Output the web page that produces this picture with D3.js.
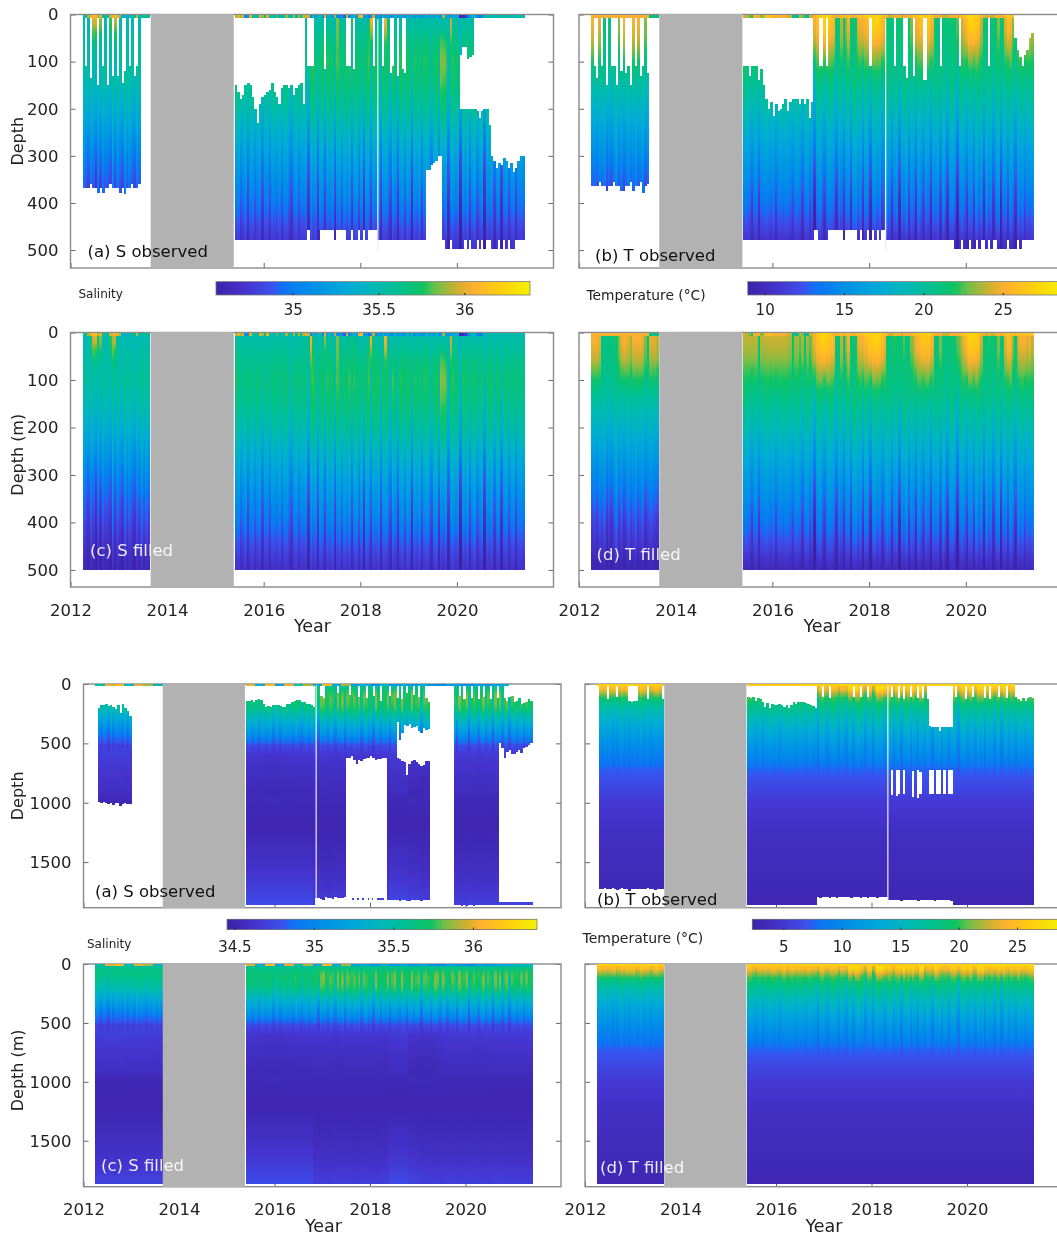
<!DOCTYPE html>
<html><head><meta charset="utf-8">
<script src="https://cdn.jsdelivr.net/npm/d3@7/dist/d3.min.js"></script>
<style>html,body{margin:0;padding:0;background:#fff;overflow:hidden}svg{display:block;font-family:"DejaVu Sans",sans-serif;filter:blur(0.45px)}</style>
</head><body><svg id="c" width="1057" height="1236"></svg>
<script>
// ---- time columns: 28 in 2012-2013, 120 in 2015-2021 (0.05 yr each)
const colorStops=[0,.1,.18,.21,.3,.42,.5,.58,.66,.7,.77,.82,.9,1];
const colorValues=["#3c22a8","#4535d0","#3a52ee","#1070f5","#008ee8","#00aad8","#00b8b8","#00c090","#10c460","#70bf48","#d0b030","#ffb030","#ffcc10","#f2f200"];
const yearTicks=[2012,2014,2016,2018,2020];
const shallowTicks=[0,100,200,300,400,500];
const deepTicks=[0,500,1000,1500];
const salTicksTop=[35,35.5,36], tempTicksTop=[10,15,20,25];
const salTicksBot=[34.5,35,35.5,36], tempTicksBot=[5,10,15,20,25];

// base profiles
const shallowDepths=[0,50,100,150,200,250,300,350,400,450,480,500];
const sShallowBase=[35.5,35.6,35.65,35.6,35.5,35.35,35.2,35.07,34.95,34.8,34.72,34.68];
const tShallowBase=[22.2,21.8,21,20,18.6,17,15.4,14,12.6,11.2,10.1,9.6];
const sDeepDepths=[0,30,100,200,300,400,480,510,600,800,1000,1200,1500,1700,1865];
const sDeepBase=[35.45,35.6,35.68,35.6,35.35,35.1,34.88,34.75,34.65,34.57,34.52,34.49,34.55,34.62,34.7];
const tDeepDepths=[0,40,80,110,150,200,300,400,500,600,680,720,1000,1300,1865];
const tDeepBase=[24.5,23.8,21,19.5,18.5,17.3,15,13,11,9.6,8.4,7.5,5.2,3.9,3];

// column anomalies read from the streaks
const tWarm=[3,3,3,2.5,-1.5,-1.5,-1,-1,-1.5,0,-1,1,2.5,3,3,2.5,1.5,3,3,3,3,2.5,1,-1,2.5,2.5,2.5,2,
1.8,1.8,1.8,1.8,1.8,1.8,-1,1.8,1.8,2,2,2,2,2,2,2,2,2,1.8,1.5,-.5,1.5,1.5,.5,1.5,-.5,1.5,.5,1.5,
3,4,4.5,5,5,4.5,4.5,4,3.5,-1,-1,2,-1,1,3,-1,-1,-.5,2.5,3,3,3.5,4,4.5,5,5,5,4.5,4,3,
-.5,-1,-1,0,-1,-.5,-1,.5,-1,-1,1,2,3,3.5,4,4.5,4,4.5,3.5,3,
-1,-1,1,-1,-1,-1,-1,-.5,-1,.5,1,2,3,4,5,5,5,4.5,4,2,-.5,-1,0,-1,-1,-.5,1,-1,-.5,2.5,4,3.5,1,-.5,2,3,3,3,2.5,3,2];
const tMid=[-.5,-.3,-.8,-.2,-.5,0,-1,-.5,-1,-.3,.3,-.8,-.2,-1,-.5,0,-.6,-.3,.2,-.7,-.3,0,-1,-.5,-.2,-.4,-.6,-.8,
.5,.6,.3,-.6,.4,.5,-.8,.3,.5,.6,.4,.2,.5,-.5,.4,.6,.3,.5,.6,.2,-.3,.5,.6,.3,-.6,.5,.6,-.2,.3,
-1.5,.4,.8,.3,-.7,.5,.8,.6,.2,-1,.6,.2,-.8,.5,.7,-.9,.8,1,.2,.6,-.9,.7,.5,-1.2,.6,.9,.3,.7,-.5,.4,
1,.6,-.8,.5,.8,-1.2,.7,.3,.9,-.6,.6,.2,-1,.8,.4,-.5,.8,.3,-1.1,.6,
.5,.8,-.6,.9,.4,-1,.6,.8,.2,-1.4,.5,.9,.3,-.7,.6,.5,-.6,1,.2,.6,-1.2,.8,.3,.5,-.8,.6,.9,-1.3,.4,.6,-.5,.8,.3,-.9,.7,.4,.6,-.2,.5,.3,.6];
const tSkin=[25,25,25,25,25,25,25,25,25,25,25,25,25,25,25,25,25,25,25,25,25,25,25,25,20.5,20.5,21,20.5,
24,24,23,22,25,25,25,23,24,26,26,26,25,25,25,25,25,25,24,24,20.5,20,21,24,23,20.5,20.5,24,24,
25,26,26.5,27,27,27,27,26,25,25,25,26,25,25,26,25,25,25,26,26,26,26.5,27,27,27,27,27,27,26,26,
25,24,24,25,25,25,24,25,25,25,25,26,26,26,27,27,26,27,26,26,
25,25,25,24,24,24,25,25,25,25,25,26,26,27,27,27,27,27,26,25,25,24,25,24,24,25,25,25,25,26,27,26,26,25,26,26,26,26,26,26,26];
const sSkin=[35.5,35.6,35.9,36,36.1,36.1,35.9,36,35.7,35.5,35.5,35.95,36,36.05,36,35.9,35.4,35.3,35.4,35.5,35.4,35.6,35.95,35.5,35.5,35.6,35.6,35.6,
35.9,36,35.9,36,35.1,35.1,36,35.6,35.6,35.5,36,35.9,35.6,36,35.6,35.5,35.5,35.8,35.5,35.5,35.5,35.9,35.6,35.5,35.9,35.6,35.9,35.5,35.9,
36,35.95,35.1,35.5,35.2,35.5,35.5,35.1,36,35.3,35.5,35.2,35.9,35.1,35.1,35.2,34.9,35.95,35.1,35.3,35.4,35.2,36,36.1,35.2,35.2,34.95,35.1,35.95,35.1,
35.2,35.1,35.4,35.2,35.3,35.1,35.2,35.4,35.1,35.3,35.2,35.1,35.4,35.2,35.5,35.1,35.3,35.2,35.1,35.2,
35.5,35.2,35.3,35.2,35.3,35.2,35.2,35.9,35.3,35.2,35.2,35.3,35.3,35.4,34.6,34.6,34.7,35,35.2,35.4,35.5,35.1,34.95,35.1,35.5,35.5,35.5,35.5,35.5,35.5,35.5,35.5,35.5,35.5,35.5,35.5,35.5,35.5,35.5,35.5,35.5];
const sSurf=[0,0,0,.3,.6,.7,.2,.5,0,0,0,.4,.5,.6,.1,0,0,0,0,0,0,0,0,0,0,0,0,0,
0,0,0,0,0,0,0,0,0,0,0,0,0,0,0,0,0,0,0,0,0,0,0,0,0,0,0,0,0,
0,.2,.6,.2,0,0,0,0,.5,0,0,0,0,.4,.1,0,0,0,0,.35,0,0,0,0,0,0,.2,.7,.1,0,
0,0,0,.6,.1,0,0,0,.05,0,0,0,0,0,0,0,0,0,0,0,
0,0,0,0,0,0,0,0,0,0,.5,0,0,0,0,0,0,0,0,0,0,0,0,0,0,0,0,0,0,0,0,0,0,0,0,0,0,0,0,0,0];
const sMid=[-.05,-.1,-.15,-.05,-.1,-.2,-.05,-.15,-.05,-.1,-.1,-.15,0,-.15,-.05,-.1,-.15,0,-.1,-.05,-.1,-.15,-.05,-.1,0,-.1,-.05,-.1,
.02,.05,-.05,0,.05,-.1,.03,.05,-.05,.02,.05,-.1,.03,.02,-.08,.05,.02,0,.05,-.05,.03,.05,-.02,-.1,.03,.05,-.05,.03,.02,
.05,-.15,.08,.02,.05,-.12,.08,.03,-.1,.06,.02,.08,-.12,.05,.07,-.05,.08,.02,.07,-.1,.05,.08,-.05,.06,-.15,.08,.04,-.1,.06,.02,
.07,-.12,.05,.06,.02,-.1,.08,.03,-.12,.05,.07,-.05,.08,.04,-.15,.06,.02,.07,-.08,.05,
.08,.03,-.1,.06,.08,-.12,.05,.02,.07,-.15,.06,.08,.03,.05,-.2,.06,.03,.07,-.1,.05,.08,-.06,.03,.06,-.18,.05,.02,.07,-.1,.04,.06,-.15,.03,.05,-.08,.02,.04,-.1,.02,.03,0];
const sPlume=[0,0,0,0,0,0,0,0,0,0,0,0,0,0,0,0,0,0,0,0,0,0,0,0,0,0,0,0,
0,0,0,0,0,.05,0,0,0,0,.05,0,0,0,0,0,0,0,0,0,.05,0,0,0,0,0,0,0,0,
0,0,.1,.35,.1,0,0,.15,.05,.2,0,0,.1,.3,.05,.1,0,0,.2,.05,.25,0,.1,.05,.2,.05,.3,.1,0,.15,
.1,.05,.15,0,.1,.05,.2,0,.1,.2,.05,.25,.05,.1,0,.15,.1,.05,.05,.2,
.1,.05,.1,.05,.1,.25,.5,.55,.3,.1,.05,.15,0,.1,.05,.15,.05,.1,0,.1,.05,.1,.05,.15,0,.1,.05,.1,.05,.1,0,.05,.1,.05,0,.05,.1,0,.05,0,0];
const sdLime=[0,0,0,0,0,0,0,0,0,0,0,0,0,0,0,0,0,0,0,0,0,0,0,0,0,0,0,0,
0,0,0,0,0,0,0,0,0,0,0,0,0,0,0,0,0,0,0,0,.15,.05,0,0,0,0,0,0,0,
.1,.3,.2,.35,.1,.3,.15,.2,.05,.3,.1,.2,.05,.25,.1,.3,.15,.05,.2,.05,.25,.1,.2,.05,.15,.3,.1,.2,.05,.15,
.25,.1,.2,.3,.1,.2,.3,.15,.25,.05,.3,.2,.1,.25,.05,.2,.3,.1,.2,.05,
.25,.3,.2,.3,.1,.25,.05,.3,.1,.2,.3,.05,.2,.3,.1,.05,.25,.05,.3,.1,.2,.05,.25,.1,.05,.3,.1,.25,.05,.2,.3,.05,.25,.1,.3,.05,.25,.1,.3,.1,.2];
const sdSkin=[35.5,36,36.1,35.4,36,35.9,35.4,36,35.3,36.1,35.2,36,35.5,35.9,35.3,36.1,35.3,35.9,35.2,35.3,35.1,35.4,35.1,35.3,35.1,35.3,35.1,35,35.2,35.1,35,35.2,35.1,35.2,35.3,35.4,35.4];
const sdDeep=[.06,.07,.07,.06,.06,.06,.05,-.01,-.02,-.03,-.03,-.02,-.01,-.01,0,0,-.01,0,0,0,0,-.01,.03,.04,-.03,-.04,-.03,0,.02,.02,.02,.01,.02,.03,.03,.03,.03];
const sdBot=[.02,.02,.02,.02,.02,.02,.02,.07,.07,.07,.07,.07,.07,.07,0,-.01,0,0,-.01,0,-.01,.01,.06,.06,.03,.01,0,0,.01,0,.01,0,0,.01,0,0,0];
const tdWarm=[1,1,.5,1.5,.5,1,1.5,1.5,.5,1.5,1,.5,1.5,.5,1,0,.5,1,0,1,.5,1.2,0,1,.5,.5,.8,.5,.5,1,.5,.5,.7,.3,.5,2,2.5,1.5,0,1.5,-.5,2.5,2.5,1,.5,1.5,2.5,1,2,1,2.5,0,1,2,.5,0,1,1.5,1,1.5,2,.5,2,2,.5,1.5,1,2,.5,1,1.5,.5,1,1.5];
const tdSkin=[26.5,26,26.5,26,26.5,27];

// observed coverage, shallow salinity
const aTop=[8,110,8,135,8,8,150,8,110,8,150,8,130,8,130,8,145,120,8,110,8,130,110,8,null,null,null,null,
150,165,180,170,150,145,150,175,200,230,190,175,170,165,160,145,165,175,190,155,150,150,155,150,170,155,150,145,190,
8,110,110,110,8,8,8,8,115,8,8,8,8,8,8,8,8,110,110,8,115,8,8,8,8,8,8,8,110,8,
8,8,110,8,8,125,110,8,130,8,115,125,8,8,8,8,8,8,8,8,
8,8,8,8,8,8,8,8,8,8,8,8,8,8,8,8,8,8,8,8,200,205,220,205,200,200,235,300,310,325,315,320,305,310,325,315,335,325,310,300,300];
const aBot=[368,368,368,360,368,368,378,368,378,368,368,360,368,368,368,378,368,380,368,368,360,368,368,360,null,null,null,null,
478,478,478,478,478,478,478,478,478,478,478,478,478,478,478,478,478,478,478,478,478,478,478,478,478,478,478,478,478,
478,458,478,478,478,478,458,458,458,458,458,458,478,458,458,458,458,478,478,458,478,478,458,478,458,478,458,458,458,458,
478,478,478,478,478,478,478,478,478,478,478,478,478,478,478,478,478,478,478,478,
330,330,320,315,310,300,300,478,498,498,478,498,498,498,498,498,478,498,478,498,498,478,498,478,498,478,478,498,498,498,478,498,478,498,478,498,498,478,478,478,478];
const aHoles=[[121,85,200],[122,70,200],[123,70,200],[124,95,200],[125,90,200],[126,85,200]];
// observed coverage, shallow temperature
const bTop=[8,110,135,8,110,8,150,8,110,110,150,8,120,8,125,110,150,8,110,8,130,110,8,125,null,null,null,null,
110,110,130,110,110,110,140,115,150,180,200,185,215,190,205,200,190,180,205,185,180,180,180,190,180,190,180,220,185,
8,8,110,110,8,110,8,8,8,8,8,8,8,8,8,8,8,8,8,8,8,8,8,110,8,8,8,8,8,8,
8,8,8,110,8,8,8,110,135,8,8,130,8,8,8,140,140,8,8,8,
8,8,110,8,8,8,8,8,8,8,110,8,8,8,8,8,8,8,8,8,8,8,110,8,8,8,8,8,8,8,8,8,8,50,75,90,110,85,75,50,40];
const bBot=[365,365,365,355,365,365,375,365,365,355,365,365,375,375,365,365,355,375,365,365,355,378,365,360,null,null,null,null,
478,478,478,478,478,478,478,478,478,478,478,478,478,478,478,478,478,478,478,478,478,478,478,478,478,478,478,478,478,
458,458,478,478,478,478,458,458,458,458,458,458,478,458,458,458,458,458,478,458,478,478,458,478,458,478,458,478,458,458,
478,478,478,478,478,478,478,478,478,478,478,478,478,478,478,478,478,478,478,478,
478,478,478,478,478,478,478,478,498,498,498,478,498,498,478,498,498,478,498,478,478,498,478,498,478,478,498,498,498,498,478,498,498,498,478,498,478,478,478,478,478];
// observed coverage, deep salinity
const a2Top=[null,205,180,175,170,185,180,195,210,180,245,170,200,225,270,null,null,null,null,null,null,null,null,null,null,null,null,null,
145,140,135,150,135,130,135,170,190,185,190,175,180,175,185,190,195,165,170,155,140,135,135,150,155,165,170,175,195,
8,8,100,120,8,8,8,8,8,80,8,8,8,8,90,8,8,8,110,8,8,120,8,8,100,8,8,140,8,8,
8,100,8,8,120,8,130,8,80,8,8,90,8,110,8,8,120,150,
null,null,null,null,null,null,null,null,null,null,
8,8,100,8,130,8,8,120,8,8,130,8,110,8,8,125,8,8,120,
8,8,120,140,110,100,150,140,120,170,160,150,130,140];
const a2Bot=[null,990,1000,990,1000,1010,1000,1020,1000,1000,1030,1010,1000,1010,1010,null,null,null,null,null,null,null,null,null,null,null,null,null,
1860,1860,1860,1860,1860,1860,1860,1860,1860,1860,1860,1860,1860,1860,1860,1860,1860,1860,1860,1860,1860,1860,1860,1860,1860,1860,1860,1860,1860,
1800,1800,1810,1820,1790,1800,1800,1810,1790,1800,1800,1800,1790,620,620,610,640,670,640,650,630,620,620,610,620,640,630,630,620,620,
1820,1820,1815,1820,1820,1825,1820,1820,1830,1825,1820,1815,1820,1820,1825,1820,1820,1820,
null,null,null,null,null,null,null,null,null,null,
1860,1860,1860,1870,1860,1870,1860,1865,1870,1860,1860,1865,1860,1860,1860,1860,1860,1860,1860,
500,540,620,570,560,590,590,570,560,580,540,530,510,500];
const a2Holes=[[91,320,620],[92,470,630],[93,410,650],[94,345,660],[95,350,770],[96,340,670],[97,370,650],[98,360,640],[99,350,660],[100,400,670],[101,410,690],[102,370,680],[103,390,650],[104,380,650]];
const a2Extras=[[2020.7,2021.42,1835,1860],[2017.62,2017.66,1800,1815],[2017.72,2017.78,1800,1815],[2017.84,2017.87,1800,1815],[2017.95,2017.98,1800,1815],[2018.04,2018.07,1800,1815],[2018.15,2018.3,1800,1815]];
// observed coverage, deep temperature
const b2Top=[null,8,8,8,125,8,8,8,110,8,8,8,8,140,150,140,140,8,8,8,8,130,8,8,8,8,8,130,
110,120,110,140,120,125,150,190,160,205,170,180,175,170,180,190,175,200,175,150,165,150,155,150,160,165,175,185,200,
8,8,110,8,8,120,8,8,8,8,8,8,8,8,8,110,8,8,110,8,8,110,8,8,8,8,8,8,8,8,
8,110,8,8,120,8,130,8,8,110,8,8,115,8,120,8,130,
350,365,360,360,400,365,360,360,360,365,
8,110,8,8,8,125,8,8,110,8,8,8,8,115,8,130,8,8,8,110,8,8,120,8,8,8,
110,130,140,120,140,120,110,115];
const b2Bot=[null,1730,1730,1720,1730,1730,1720,1730,1735,1730,1720,1730,1730,1740,1730,1730,1730,1730,1730,1730,1730,1720,1730,1730,1735,1730,1730,1730,
1860,1860,1860,1860,1860,1860,1860,1860,1860,1860,1860,1860,1860,1860,1860,1860,1860,1860,1860,1860,1860,1860,1860,1860,1860,1860,1860,1860,1860,
1790,1800,1795,1790,1795,1800,1795,1790,1800,1795,1790,1795,1790,1795,1800,1795,1790,1795,1800,1790,1795,1800,1795,1790,1795,1800,1795,1795,1790,1795,
1820,1820,1815,1820,1820,1825,1820,1820,1815,1820,1820,1820,1825,1820,1815,1820,1820,1820,1820,1825,1820,1820,1815,1820,1820,1820,1825,
1860,1860,1865,1860,1860,1860,1865,1860,1860,1860,1860,1865,1860,1860,1860,1860,1860,1860,1865,1860,1860,1860,1860,1860,1860,1860,1860,1865,1860,1860,1860,1860,1860,1860];
const b2Holes=[[88,725,935],[90,725,945],[91,725,930],[93,725,925],[97,730,950],[99,725,960],[100,740,925],[104,725,925],[105,725,930],[107,725,930],[108,725,925],[110,725,925],[112,725,930],[113,725,925]];

// ---- families: base profile + anomalies weighted by depth
const fam={
 sS:{d:shallowDepths,base:sShallowBase,skin:sSkin,skinD:8,max:500,step:20,layers:[
   [sSurf,[0,10,30,50,70,100],[.85,.85,.65,.3,.08,0]],
   [sMid,[0,50,100,300,400,500],[.3,.8,1,1.7,1.6,.8]],
   [sPlume,[30,60,100,200,300,400],[0,.3,.35,.25,.1,0]]]},
 tS:{d:shallowDepths,base:tShallowBase,skin:tSkin,skinD:8,max:500,step:20,layers:[
   [tWarm,[0,30,60,90,120,150],[1,.95,.7,.4,.15,0]],
   [tMid,[60,150,400,450,500],[0,1.2,2,1.6,.6]]]},
 sD:{d:sDeepDepths,base:sDeepBase,skin:sdSkin,skinD:14,max:1865,step:40,layers:[
   [sdLime,[30,60,120,220,300,400],[0,.45,.45,.4,.12,0]],
   [sMid,[50,150,400,500,600],[0,1.2,1.2,.6,0]],
   [sdDeep,[500,600,900,1000,1100],[0,.7,.7,-.3,0]],
   [sdBot,[1200,1500,1865],[0,.7,1]]]},
 tD:{d:tDeepDepths,base:tDeepBase,skin:tdSkin,skinD:14,max:1865,step:40,layers:[
   [tdWarm,[0,50,80,120,170],[1.3,1.3,1,.5,0]],
   [tMid,[100,200,400,600,720,800],[.8,1.6,1.6,1,.3,0]]]}
};
const N=148;
const yearOf=i=>i<28?2012.25+.05*i:2015.4+.05*(i-28);
const pick=(a,i)=>a[Math.floor(i*a.length/N)];

const panels=[
 {id:"a1",title:"(a) S observed",fam:"sS",cb:"s1",x0:70.5,x1:553.5,y0:14.5,y1:268,dom:538,ticks:shallowTicks,lab:true,xl:false,ylab:"Depth",ylx:17,top:aTop,bot:aBot,holes:aHoles,skinEnd:2021.4,seams:[2018.35],tx:87.5,ty:256.5,tc:"#111"},
 {id:"b1",title:"(b) T observed",fam:"tS",cb:"t1",x0:579,x1:1062.5,y0:14.5,y1:268,dom:538,ticks:shallowTicks,lab:false,xl:false,top:bTop,bot:bBot,holes:[],skinEnd:2021.0,seams:[2018.33],tx:595,ty:261,tc:"#111"},
 {id:"c1",title:"(c) S filled",fam:"sS",cb:"s1",x0:70.5,x1:553.5,y0:332.5,y1:587,dom:536,ticks:shallowTicks,lab:true,xl:true,ylab:"Depth (m)",ylx:17,tx:90,ty:556,tc:"#fff",yrY:631.5,yrX:312.5},
 {id:"d1",title:"(d) T filled",fam:"tS",cb:"t1",x0:579,x1:1062.5,y0:332.5,y1:587,dom:536,ticks:shallowTicks,lab:false,xl:true,tx:596.5,ty:560,tc:"#fff",yrY:631.5,yrX:822},
 {id:"a2",title:"(a) S observed",fam:"sD",cb:"s2",x0:83.5,x1:561,y0:684,y1:907.7,dom:1884,ticks:deepTicks,lab:true,xl:false,ylab:"Depth",ylx:17,top:a2Top,bot:a2Bot,holes:a2Holes,extras:a2Extras,skinEnd:2020.87,seams:[2016.86],tx:95,ty:897,tc:"#111"},
 {id:"b2",title:"(b) T observed",fam:"tD",cb:"t2",x0:585,x1:1062.5,y0:684,y1:907.7,dom:1884,ticks:deepTicks,lab:false,xl:false,top:b2Top,bot:b2Bot,holes:b2Holes,skinEnd:2021.0,seams:[2018.33],tx:597,ty:905,tc:"#111"},
 {id:"c2",title:"(c) S filled",fam:"sD",cb:"s2",x0:83.5,x1:561,y0:964,y1:1186.7,dom:1890,ticks:deepTicks,lab:true,xl:true,ylab:"Depth (m)",ylx:17,tx:101,ty:1171,tc:"#fff",yrY:1232,yrX:323.5},
 {id:"d2",title:"(d) T filled",fam:"tD",cb:"t2",x0:585,x1:1062.5,y0:964,y1:1186.7,dom:1890,ticks:deepTicks,lab:false,xl:true,tx:600,ty:1172.5,tc:"#fff",yrY:1232,yrX:824}
];
const bars={
 s1:{vmin:34.55,vmax:36.38,x0:216,x1:530,y0:281.5,y1:295,ticks:salTicksTop,ty:315,label:"Salinity",lx:78.5,ly:298,ls:12},
 t1:{vmin:8.9,vmax:28.7,x0:747.7,x1:1062,y0:281.5,y1:295,ticks:tempTicksTop,ty:315,label:"Temperature (°C)",lx:586.5,ly:300,ls:13.8},
 s2:{vmin:34.45,vmax:36.4,x0:227,x1:537,y0:919.3,y1:929.5,ticks:salTicksBot,ty:951.5,label:"Salinity",lx:87,ly:948,ls:12},
 t2:{vmin:2.3,vmax:28.8,x0:752.3,x1:1062,y0:919.3,y1:929.5,ticks:tempTicksBot,ty:951.5,label:"Temperature (°C)",lx:582.5,ly:943,ls:14}
};
const colorOf=b=>{const v=d3.scaleLinear().domain([b.vmin,b.vmax]).range([0,1]);
  const c=d3.scaleLinear().domain(colorStops).range(colorValues).clamp(true);return d=>c(v(d));};

const svg=d3.select("#c"),defs=svg.append("defs");
panels.forEach(p=>{
  const F=fam[p.fam],col=colorOf(bars[p.cb]);
  const x=d3.scaleLinear().domain([2012,2022]).range([p.x0,p.x1]);
  const y=d3.scaleLinear().domain([0,p.dom]).range([p.y0,p.y1]);
  const g=svg.append("g").attr("id",p.id);
  const base=d3.scaleLinear().domain(F.d).range(F.base);
  const W=F.layers.map(l=>d3.scaleLinear().domain(l[1]).range(l[2]).clamp(true));
  const stops=d3.range(0,F.max+1,F.step);
  const value=(i,d)=>F.layers.reduce((s,l,k)=>s+pick(l[0],i)*W[k](d),base(d));
  // axes
  const ax=d3.axisBottom(x).tickValues(yearTicks).tickSizeInner(-5).tickSizeOuter(0).tickPadding(p.xl?17:0).tickFormat(p.xl?d3.format("d"):"");
  const ay=d3.axisLeft(y).tickValues(p.ticks).tickSizeInner(-5).tickSizeOuter(0).tickPadding(12).tickFormat(p.lab?d3.format("d"):"");
  const ar=d3.axisRight(y).tickValues(p.ticks).tickSizeInner(-5).tickSizeOuter(0).tickFormat("");
  [[ax,`translate(0,${p.y1})`],[ay,`translate(${p.x0},0)`],[ar,`translate(${p.x1},0)`]].forEach(([a,t])=>{
    const s=g.append("g").attr("transform",t).call(a);
    s.select(".domain").remove();
    s.selectAll("line").attr("stroke","#666");
    s.selectAll("text").attr("fill","#222").attr("font-size",16.5).attr("font-family","DejaVu Sans");
  });
  g.append("rect").attr("x",p.x0).attr("y",p.y0).attr("width",p.x1-p.x0).attr("height",p.y1-p.y0).attr("fill","none").attr("stroke","#8a8a8a").attr("stroke-width",1.4);
  if(p.ylab) g.append("text").attr("transform",`translate(${p.ylx+6},${(p.y0+p.y1)/2-(p.ylab==="Depth"?0:5)}) rotate(-90)`).attr("text-anchor","middle").attr("font-size",16).attr("fill","#222").text(p.ylab);
  if(p.xl) g.append("text").attr("x",p.yrX).attr("y",p.yrY).attr("text-anchor","middle").attr("font-size",17.5).attr("fill","#222").text("Year");
  // columns
  const hm=g.append("g").attr("shape-rendering","crispEdges").style("filter","blur(0.6px)");
  for(let i=0;i<N;i++){
    const t=yearOf(i),top=p.top?p.top[i]:0,bot=p.bot?p.bot[i]:F.max;
    const xa=x(t),xb=x(t+.05);
    if(top!=null&&bot!=null){
      const gid=`${p.id}g${i}`;
      const lg=defs.append("linearGradient").attr("id",gid).attr("gradientUnits","userSpaceOnUse").attr("x1",0).attr("x2",0).attr("y1",y(0)).attr("y2",y(F.max));
      stops.forEach(d=>lg.append("stop").attr("offset",d/F.max).attr("stop-color",col(value(i,d))));
      const hs=(p.holes||[]).filter(h=>h[0]===i);
      const parts=hs.length?[[top,hs[0][1]],[hs[0][2],bot]]:[[top,bot]];
      parts.forEach(([a,b])=>{ if(b>a) hm.append("rect").attr("x",xa).attr("width",xb-xa+.3).attr("y",y(a)).attr("height",y(b)-y(a)).attr("fill",`url(#${gid})`); });
    }
    const skinEnd=p.skinEnd||2022;
    if(t<skinEnd) hm.append("rect").attr("x",xa).attr("width",xb-xa+.3).attr("y",y(0)).attr("height",y(F.skinD)-y(0)).attr("fill",col(pick(F.skin,i)));
  }
  (p.extras||[]).forEach(e=>hm.append("rect").attr("x",x(e[0])).attr("width",x(e[1])-x(e[0])).attr("y",y(e[2])).attr("height",y(e[3])-y(e[2])).attr("fill",col(34.72)));
  (p.seams||[]).forEach(s=>g.append("rect").attr("x",x(s)).attr("width",1.2).attr("y",y(10)).attr("height",y(F.max)-y(10)).attr("fill","#e8eef8"));
  // no-data band
  g.append("rect").attr("x",x(2013.66)).attr("width",x(2015.38)-x(2013.66)).attr("y",p.y0-.5).attr("height",p.y1-p.y0+1).attr("fill","#b2b2b2");
  g.append("text").attr("x",p.tx).attr("y",p.ty).attr("font-size",16.5).attr("fill",p.tc).attr("fill-opacity",p.tc==="#fff"?.9:1).text(p.title);
});
Object.values(bars).forEach(b=>{
  const g=svg.append("g"),v=d3.scaleLinear().domain([b.vmin,b.vmax]).range([b.x0,b.x1]),col=colorOf(b);
  const n=Math.round(b.x1-b.x0);
  g.selectAll("rect").data(d3.range(n)).join("rect").attr("x",i=>b.x0+i).attr("width",1.2).attr("y",b.y0).attr("height",b.y1-b.y0).attr("fill",i=>col(v.invert(b.x0+i+.5))).attr("shape-rendering","crispEdges");
  g.append("rect").attr("x",b.x0).attr("y",b.y0).attr("width",b.x1-b.x0).attr("height",b.y1-b.y0).attr("fill","none").attr("stroke","#777").attr("stroke-width",.8);
  b.ticks.forEach(t=>{
    g.append("line").attr("x1",v(t)).attr("x2",v(t)).attr("y1",b.y1-2).attr("y2",b.y1).attr("stroke","#222");
    g.append("text").attr("x",v(t)).attr("y",b.ty).attr("text-anchor","middle").attr("font-size",15).attr("fill","#222").text(t);
  });
  g.append("text").attr("x",b.lx).attr("y",b.ly).attr("font-size",b.ls).attr("fill","#222").text(b.label);
});
</script></body></html>
